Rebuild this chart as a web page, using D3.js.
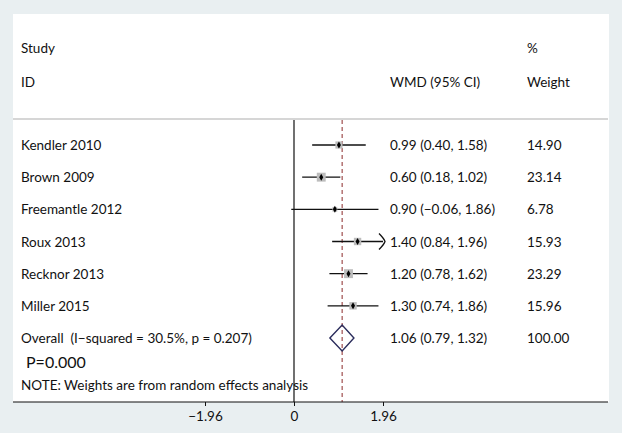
<!DOCTYPE html>
<html>
<head>
<meta charset="utf-8">
<script src="https://cdn.jsdelivr.net/npm/d3@7"></script>
<style>
  html, body { margin: 0; padding: 0; background: #e9eff1; }
  svg { display: block; }
  text { font-family: Lato, "Open Sans", sans-serif; fill: #111; white-space: pre; }
</style>
</head>
<body>
<div id="chart"></div>
<script>
// study data
const studies = ["Kendler 2010", "Brown 2009", "Freemantle 2012", "Roux 2013", "Recknor 2013", "Miller 2015"];
const est = [0.99, 0.60, 0.90, 1.40, 1.20, 1.30];
const lo = [0.40, 0.18, -0.06, 0.84, 0.78, 0.74];
const hi = [1.58, 1.02, 1.86, 1.96, 1.62, 1.86];
const weights = [14.90, 23.14, 6.78, 15.93, 23.29, 15.96];

const overall = { label: "Overall  (I\u2212squared = 30.5%, p = 0.207)", est: 1.06, lo: 0.79, hi: 1.32, weight: 100.00 };
const xTicks = [-1.96, 0, 1.96];

const W = 622, H = 433;
const panel = { left: 13, top: 14, right: 609, bottom: 402 };
const fs = 13.5;

const svg = d3.select("#chart").append("svg")
  .attr("width", W)
  .attr("height", H);

svg.append("rect")
  .attr("x", panel.left).attr("y", panel.top)
  .attr("width", panel.right - panel.left)
  .attr("height", panel.bottom - panel.top)
  .attr("fill", "#fff");

const x = d3.scaleLinear().domain([-1.96, 1.96]).range([205, 383]);
// row positions: studies then overall
const y = d3.scaleLinear().domain([0, studies.length]).range([145, 338]);

const fmt = v => v.toFixed(2).replace("-", "\u2212");
const ci = (e, l, h) => `${fmt(e)} (${fmt(l)}, ${fmt(h)})`;

// header
const colStudy = 21, colCI = 390, colW = 527;
svg.append("text").attr("x", colStudy).attr("y", 53).attr("font-size", fs).text("Study");
svg.append("text").attr("x", colStudy).attr("y", 87).attr("font-size", fs).text("ID");
svg.append("text").attr("x", colCI).attr("y", 87).attr("font-size", fs).text("WMD (95% CI)");
svg.append("text").attr("x", colW).attr("y", 53).attr("font-size", fs).text("%");
svg.append("text").attr("x", colW).attr("y", 87).attr("font-size", fs).text("Weight");

svg.append("line")
  .attr("x1", panel.left).attr("x2", panel.right - 1)
  .attr("y1", 119).attr("y2", 119)
  .attr("stroke", "#d6d6d6").attr("stroke-width", 2);

// null line and overall dashed line
svg.append("line")
  .attr("x1", x(0)).attr("x2", x(0))
  .attr("y1", 120).attr("y2", panel.bottom)
  .attr("stroke", "#111").attr("stroke-width", 1.2);

svg.append("line")
  .attr("x1", x(overall.est)).attr("x2", x(overall.est))
  .attr("y1", 120).attr("y2", panel.bottom)
  .attr("stroke", "#8b2a2a").attr("stroke-width", 1)
  .attr("stroke-dasharray", "4,3");

const rows = studies.map((s, i) => ({ s, e: est[i], l: lo[i], h: hi[i], w: weights[i], i }));

// CI lines
svg.selectAll(".ci")
  .data(rows)
  .enter().append("line")
  .attr("class", "ci")
  .attr("x1", d => x(Math.max(d.l, x.domain()[0])))
  .attr("x2", d => x(Math.min(d.h, x.domain()[1])))
  .attr("y1", d => y(d.i)).attr("y2", d => y(d.i))
  .attr("stroke", "#111").attr("stroke-width", 1.3);

// arrows where the CI reaches the axis limit
svg.selectAll(".arrow")
  .data(rows.filter(d => d.h >= x.domain()[1]))
  .enter().append("path")
  .attr("class", "arrow")
  .attr("d", d => {
    const tx = x(x.domain()[1]) + 2, ty = y(d.i);
    return `M${tx - 6},${ty - 8} Q${tx - 1},${ty - 3} ${tx},${ty} Q${tx - 1},${ty + 3} ${tx - 6},${ty + 8}`;
  })
  .attr("fill", "none").attr("stroke", "#111").attr("stroke-width", 1.3);

// weight boxes (area ~ weight)
const side = d => 1.85 * Math.sqrt(d.w);
svg.selectAll(".box")
  .data(rows)
  .enter().append("rect")
  .attr("class", "box")
  .attr("x", d => x(d.e) - side(d) / 2)
  .attr("y", d => y(d.i) - side(d) / 2)
  .attr("width", side).attr("height", side)
  .attr("fill", "#bdbdbd");

svg.selectAll(".pt")
  .data(rows)
  .enter().append("path")
  .attr("class", "pt")
  .attr("d", d => d3.symbol(d3.symbolDiamond, 14)())
  .attr("transform", d => `translate(${x(d.e)},${y(d.i)})`)
  .attr("fill", "#000");

// overall diamond
const oy = y(studies.length);
svg.append("path")
  .attr("d", `M${x(overall.lo)},${oy} L${x(overall.est)},${oy - 13} L${x(overall.hi)},${oy} L${x(overall.est)},${oy + 13} Z`)
  .attr("fill", "none").attr("stroke", "#2b2d5c").attr("stroke-width", 1.4);

// text columns
svg.selectAll(".lab")
  .data(rows)
  .enter().append("text")
  .attr("x", colStudy).attr("y", d => y(d.i) + 5)
  .attr("font-size", fs).text(d => d.s);

svg.selectAll(".cit")
  .data(rows)
  .enter().append("text")
  .attr("x", colCI).attr("y", d => y(d.i) + 5)
  .attr("font-size", fs).text(d => ci(d.e, d.l, d.h));

svg.selectAll(".wt")
  .data(rows)
  .enter().append("text")
  .attr("x", colW).attr("y", d => y(d.i) + 5)
  .attr("font-size", fs).text(d => d.w.toFixed(2));

svg.append("text").attr("x", colStudy).attr("y", oy + 5).attr("font-size", fs).text(overall.label);
svg.append("text").attr("x", colCI).attr("y", oy + 5).attr("font-size", fs).text(ci(overall.est, overall.lo, overall.hi));
svg.append("text").attr("x", colW).attr("y", oy + 5).attr("font-size", fs).text(overall.weight.toFixed(2));

svg.append("text").attr("x", 26).attr("y", 368).attr("font-size", 16).text("P=0.000");
svg.append("text").attr("x", colStudy).attr("y", 390).attr("font-size", fs).text("NOTE: Weights are from random effects analysis");

// x axis
svg.append("line")
  .attr("x1", panel.left).attr("x2", panel.right - 1)
  .attr("y1", panel.bottom).attr("y2", panel.bottom)
  .attr("stroke", "#111").attr("stroke-width", 1.2);

const xAxis = d3.axisBottom(x)
  .tickValues(xTicks)
  .tickSize(4)
  .tickPadding(5)
  .tickFormat(d => d === 0 ? "0" : fmt(d));

const ax = svg.append("g")
  .attr("transform", `translate(0,${panel.bottom})`)
  .call(xAxis);
ax.select(".domain").remove();
ax.selectAll(".tick line").attr("stroke", "#111");
ax.selectAll("text")
  .attr("font-family", "Lato, 'Open Sans', sans-serif")
  .attr("font-size", fs).attr("fill", "#111");
</script>
</body>
</html>
